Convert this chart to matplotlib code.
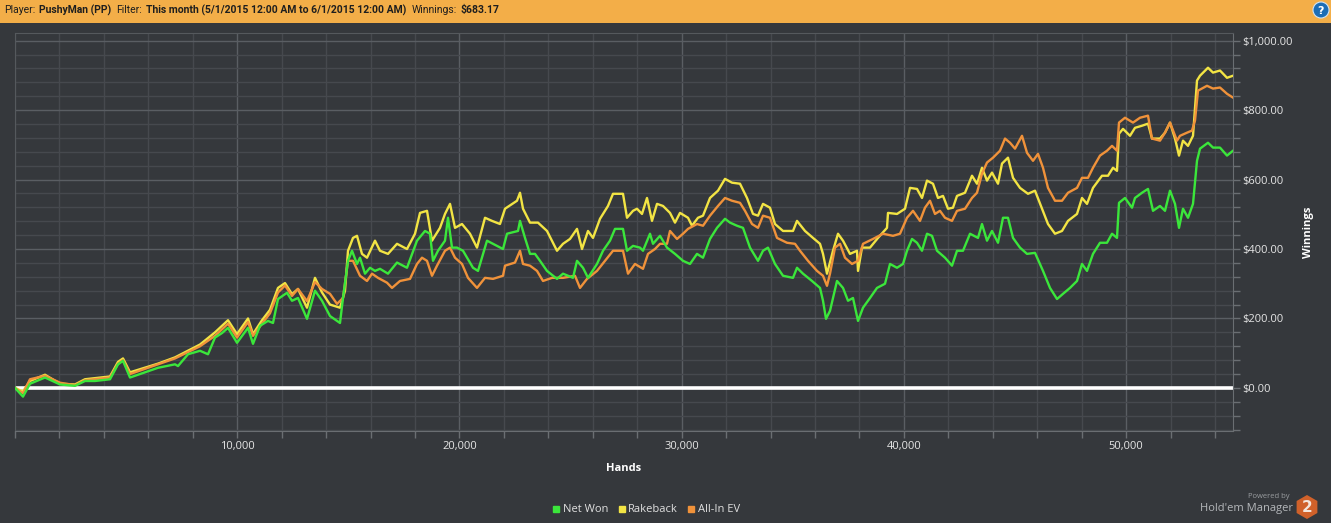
import matplotlib
matplotlib.use("Agg")
import matplotlib.pyplot as plt
from matplotlib.patches import Rectangle, Circle, RegularPolygon
from matplotlib.lines import Line2D
from matplotlib.ticker import MultipleLocator, FixedLocator, FuncFormatter
import matplotlib.transforms as mtransforms

# ---------------- data ----------------
net_won_hands = [0, 360, 675, 1350, 2025, 2700, 3150, 3600, 4275, 4635, 4860, 5175, 5760, 6435, 7200, 7335,
                 7785, 8325, 8685, 9000, 9315, 9585, 9990, 10485, 10710, 11025, 11385, 11610, 11835, 12240,
                 12465, 12735, 13140, 13500, 13815, 14175, 14625, 14760, 14985, 15165, 15390, 15525, 15750,
                 15975, 16200, 16425, 16785, 17190, 17640, 18090, 18450, 18675, 18810, 19035, 19350, 19485,
                 19665, 19890, 20160, 20610, 20835, 21240, 21510, 21960, 22140, 22635, 22725, 22950, 23175,
                 23400, 23625, 23940, 24390, 24660, 25110, 25290, 25560, 25785, 26190, 26460, 26775, 27000,
                 27360, 27540, 27810, 28125, 28260, 28575, 28710, 29025, 29340, 29700, 30060, 30375, 30690,
                 30960, 31275, 31590, 31950, 32175, 32490, 32760, 33075, 33435, 33660, 33885, 34200, 34560,
                 35010, 35190, 35460, 35865, 36225, 36360, 36495, 36675, 36990, 37260, 37485, 37710, 37935,
                 38160, 38475, 38790, 39150, 39375, 39690, 39960, 40140, 40365, 40590, 40815, 41040, 41265,
                 41490, 41850, 42165, 42390, 42660, 42975, 43335, 43515, 43740, 43965, 44235, 44460, 44685,
                 44910, 45225, 45540, 45900, 46260, 46575, 46890, 47160, 47475, 47790, 48015, 48240, 48510,
                 48825, 49140, 49365, 49590, 49680, 49950, 50265, 50400, 50715, 50985, 51210, 51525, 51750,
                 51975, 52200, 52380, 52560, 52785, 53010, 53190, 53325, 53685, 53910, 54225, 54540, 54810]
net_won = [0, -25, 12, 30, 10, 6, 20, 20, 25, 68, 78, 30, 43, 58, 68, 63,
           97, 107, 97, 145, 158, 173, 130, 173, 127, 179, 193, 187, 256, 274,
           251, 259, 199, 280, 251, 207, 187, 259, 366, 395, 357, 375, 329,
           346, 337, 343, 329, 361, 346, 424, 452, 444, 366, 395, 424, 490,
           404, 404, 395, 346, 337, 424, 415, 400, 444, 452, 481, 432, 386,
           386, 366, 337, 314, 329, 317, 366, 346, 317, 357, 395, 424, 458,
           458, 395, 409, 404, 395, 444, 415, 438, 404, 386, 366, 357, 386,
           375, 429, 461, 487, 476, 467, 461, 404, 366, 395, 404, 357, 323,
           317, 346, 329, 308, 288, 251, 199, 222, 308, 288, 251, 259, 193,
           231, 259, 288, 300, 357, 346, 357, 395, 429, 418, 395, 444, 438,
           395, 375, 352, 395, 395, 444, 432, 472, 424, 452, 418, 490, 490,
           432, 404, 386, 389, 337, 288, 256, 271, 288, 308, 357, 337, 386,
           418, 418, 444, 432, 533, 547, 519, 547, 562, 573, 510, 524, 510,
           568, 530, 461, 516, 490, 530, 654, 689, 706, 692, 692, 669, 683]

rakeback_hands = [0, 360, 675, 1350, 2025, 2700, 3150, 4275, 4635, 4860, 5175, 6435, 7200, 8325, 9000, 9585,
                  9990, 10485, 10710, 11115, 11475, 11835, 12150, 12465, 12735, 13140, 13500, 13815, 14175,
                  14625, 14850, 14985, 15210, 15390, 15615, 15840, 16200, 16425, 16785, 17190, 17640, 18000,
                  18225, 18540, 18765, 19125, 19350, 19575, 19800, 20115, 20475, 20790, 21150, 21465, 21825,
                  22050, 22590, 22725, 22860, 23175, 23535, 23940, 24390, 24660, 24975, 25290, 25515, 25785,
                  26010, 26325, 26685, 26910, 27360, 27540, 27810, 27990, 28215, 28440, 28665, 28890, 29160,
                  29475, 29700, 29925, 30285, 30465, 30735, 30960, 31275, 31635, 31950, 32265, 32625, 32940,
                  33210, 33435, 33660, 33975, 34200, 34560, 35010, 35190, 35550, 35910, 36225, 36360, 36540,
                  36810, 37035, 37260, 37575, 37890, 37935, 38115, 38475, 38835, 39240, 39285, 39690, 40050,
                  40275, 40590, 40815, 41040, 41310, 41535, 41760, 41985, 42210, 42390, 42750, 43065, 43290,
                  43515, 43740, 43965, 44235, 44415, 44685, 44910, 45225, 45585, 45900, 46215, 46485, 46800,
                  47115, 47385, 47790, 48015, 48240, 48510, 48915, 49185, 49410, 49590, 49680, 49860, 50175,
                  50400, 50715, 50985, 51165, 51525, 51750, 51975, 52200, 52380, 52560, 52785, 53010, 53190,
                  53325, 53685, 53910, 54225, 54540, 54810]
rakeback = [0, -10, 20, 38, 12, 10, 25, 33, 75, 85, 45, 70, 88, 125, 160, 195,
            155, 200, 155, 195, 225, 288, 302, 270, 285, 231, 317, 275, 240,
            231, 280, 395, 432, 438, 386, 375, 424, 395, 386, 415, 400, 444,
            504, 510, 424, 461, 501, 530, 461, 472, 444, 404, 490, 481, 472,
            516, 539, 562, 516, 476, 476, 452, 395, 415, 429, 458, 400, 452,
            432, 487, 524, 559, 559, 490, 510, 516, 501, 547, 481, 530, 524,
            504, 476, 504, 490, 467, 490, 496, 547, 568, 602, 591, 588, 547,
            501, 496, 530, 519, 472, 452, 452, 481, 452, 432, 415, 386, 329,
            395, 444, 424, 386, 395, 337, 404, 404, 432, 461, 504, 501, 516,
            576, 573, 547, 597, 588, 547, 553, 516, 519, 553, 562, 611, 588,
            634, 597, 620, 588, 646, 663, 605, 576, 559, 568, 516, 472, 444,
            452, 481, 501, 547, 530, 576, 611, 611, 634, 625, 732, 746, 726,
            749, 755, 761, 718, 718, 735, 764, 718, 669, 712, 697, 726, 885,
            899, 922, 908, 914, 893, 899]

allin_ev_hands = [0, 360, 675, 1350, 2025, 2700, 3150, 4275, 4635, 4860, 5175, 6435, 7200, 8325, 9000, 9585,
                  9990, 10485, 10710, 11115, 11475, 11835, 12150, 12465, 12735, 13140, 13500, 13815, 14175,
                  14490, 14760, 14985, 15210, 15525, 15840, 16065, 16335, 16740, 16965, 17325, 17775, 18090,
                  18315, 18540, 18765, 18990, 19350, 19575, 19800, 20115, 20385, 20790, 21150, 21510, 21960,
                  22050, 22500, 22725, 22860, 23175, 23490, 23760, 24165, 24660, 25200, 25425, 25740, 26190,
                  26550, 26910, 27360, 27585, 27900, 28260, 28485, 28800, 29025, 29340, 29475, 29790, 30060,
                  30285, 30690, 30960, 31275, 31635, 31950, 32265, 32625, 32850, 33165, 33435, 33660, 33975,
                  34290, 34740, 35100, 35325, 35685, 36090, 36360, 36540, 36675, 36900, 37125, 37350, 37665,
                  37935, 38160, 38610, 39060, 39510, 39825, 40140, 40410, 40725, 40950, 41175, 41400, 41625,
                  41850, 42165, 42390, 42750, 43065, 43290, 43515, 43740, 44010, 44325, 44550, 44775, 45000,
                  45315, 45540, 45810, 46035, 46260, 46485, 46800, 47115, 47385, 47790, 48015, 48285, 48510,
                  48825, 49140, 49365, 49590, 49680, 49950, 50310, 50625, 50985, 51165, 51525, 51750, 51975,
                  52290, 52425, 52740, 52965, 53100, 53235, 53640, 53910, 54225, 54540, 54810]
allin_ev = [0, -15, 25, 35, 15, 8, 22, 30, 70, 80, 40, 68, 85, 120, 150, 185,
            145, 190, 150, 185, 215, 275, 295, 265, 285, 250, 305, 285, 271,
            242, 259, 366, 366, 323, 308, 329, 317, 303, 288, 308, 314, 357,
            375, 366, 323, 352, 395, 404, 375, 357, 317, 288, 317, 314, 323,
            352, 361, 395, 357, 352, 337, 308, 317, 317, 323, 288, 314, 337,
            366, 395, 395, 329, 357, 343, 386, 400, 415, 415, 452, 429, 444,
            458, 472, 467, 496, 524, 547, 539, 533, 510, 472, 461, 496, 490,
            432, 418, 415, 395, 366, 337, 323, 294, 329, 404, 415, 375, 357,
            366, 415, 429, 444, 438, 444, 490, 510, 481, 519, 539, 501, 510,
            490, 481, 510, 516, 547, 562, 617, 649, 663, 683, 718, 706, 689,
            726, 677, 654, 674, 634, 576, 539, 539, 562, 576, 605, 605, 634,
            669, 683, 697, 683, 764, 778, 764, 778, 784, 718, 712, 735, 764,
            712, 726, 735, 741, 770, 856, 870, 862, 865, 847, 836]

series_names = ["Net Won", "Rakeback", "All-In EV"]
series_colors = ["#3be63b", "#f2e444", "#f0923a"]
x_ticks = [10000, 20000, 30000, 40000, 50000]
y_ticks = [0, 200, 400, 600, 800, 1000]
header_parts = [("Player:", "normal"), ("PushyMan (PP)", "bold"), ("Filter:", "normal"),
                ("This month (5/1/2015 12:00 AM to 6/1/2015 12:00 AM)", "bold"),
                ("Winnings:", "normal"), ("$683.17", "bold")]

# ---------------- figure ----------------
W, H = 1331, 523
fig = plt.figure(figsize=(W / 100, H / 100), dpi=100)
bg = "#35383c"
fig.patch.set_facecolor(bg)

# header bar
fig.patches.append(Rectangle((0, 1 - 23 / H), 1, 23 / H, transform=fig.transFigure,
                             facecolor="#f3ae48", edgecolor="none", zorder=0))

ax = fig.add_axes([15 / W, 1 - 431 / H, (1233 - 15) / W, (431 - 33) / H])
ax.set_facecolor(bg)

ax.set_xlim(0, 54810)
ax.set_ylim(-124, 1022)

major_grid = "#5a5e63"
minor_grid = "#46494e"
ax.xaxis.set_major_locator(FixedLocator(x_ticks))
ax.xaxis.set_minor_locator(MultipleLocator(2000))
ax.yaxis.set_major_locator(FixedLocator(y_ticks))
ax.yaxis.set_minor_locator(MultipleLocator(40))
ax.grid(which="minor", color=minor_grid, lw=1.0)
ax.grid(which="major", color=major_grid, lw=1.0)
ax.set_axisbelow(True)

ax.xaxis.set_major_formatter(FuncFormatter(lambda v, p: f"{int(v):,}"))
ax.yaxis.tick_right()
ax.yaxis.set_label_position("right")
ax.yaxis.set_major_formatter(FuncFormatter(lambda v, p: f"${v:,.2f}"))

tick_font = "Open Sans"
ax.tick_params(axis="x", which="both", colors="#6a6e72", labelcolor="#e6e6e6", length=5,
               width=1, labelsize=8, pad=2)
ax.tick_params(axis="y", which="both", colors="#6a6e72", labelcolor="#e6e6e6", length=5,
               width=1, labelsize=8, pad=2)
for lab in ax.get_xticklabels() + ax.get_yticklabels():
    lab.set_fontfamily(tick_font)

for side in ["top", "left"]:
    ax.spines[side].set_color("#55595d")
for side in ["bottom", "right"]:
    ax.spines[side].set_color("#6a6e72")

# zero line
ax.axhline(0, color="white", lw=2.6, zorder=2)

# series
ax.plot(rakeback_hands, rakeback, color=series_colors[1], lw=1.7, zorder=3)
ax.plot(allin_ev_hands, allin_ev, color=series_colors[2], lw=1.7, zorder=4)
ax.plot(net_won_hands, net_won, color=series_colors[0], lw=1.7, zorder=5)

ax.set_xlabel("Hands", color="white", fontsize=8, fontweight="bold", fontfamily=tick_font, labelpad=8)
ax.set_ylabel("Winnings", color="white", fontsize=8, fontweight="bold", fontfamily=tick_font,
              labelpad=7)

# legend
handles = [Line2D([], [], marker="s", ls="none", markersize=5, color=c) for c in series_colors]
leg = fig.legend(handles, series_names, loc="center", bbox_to_anchor=(646 / W, 1 - 510 / H),
                 ncol=3, frameon=False, handletextpad=0.2, columnspacing=0.8, handlelength=0.8,
                 prop={"family": tick_font, "size": 8})
for t in leg.get_texts():
    t.set_color("#e0e0e0")

# header text, placed piece by piece
hdr_y = 1 - 10 / H
hdr_font = "Roboto"
renderer = fig.canvas.get_renderer()
x_px = 4
for i, (txt, wt) in enumerate(header_parts):
    t = fig.text(x_px / W, hdr_y, txt, color="#1e1e1e", fontsize=7.5, fontfamily=hdr_font,
                 va="center", ha="left", fontweight=wt)
    bb = t.get_window_extent(renderer)
    x_px = bb.x1 + (4 if wt == "normal" else 5)

# help icon
ident = mtransforms.IdentityTransform()
fig.patches.append(Circle((1321, H - 10), 8, transform=ident, facecolor="#1c6db6", edgecolor="#cfe3f5",
                          lw=0.8))
fig.text(1321 / W, 1 - 10.5 / H, "?", color="white", fontsize=8, fontweight="bold", ha="center",
         va="center")

# powered by logo
fig.text(1290 / W, 1 - 497 / H, "Powered by", color="#9a9da0", fontsize=5.5, ha="right", va="center",
         fontfamily=tick_font)
fig.text(1293 / W, 1 - 509 / H, "Hold'em Manager", color="#b4b7ba", fontsize=8, ha="right",
         va="center", fontfamily=tick_font)
fig.patches.append(RegularPolygon((1307, H - 507), 6, radius=12, transform=ident,
                                  facecolor="#d0612a", edgecolor="none"))
fig.text(1307 / W, 1 - 507 / H, "2", color="#f4e6dc", fontsize=11, fontweight="bold", ha="center",
         va="center")

fig.savefig("out.png", dpi=100, facecolor=fig.get_facecolor())
